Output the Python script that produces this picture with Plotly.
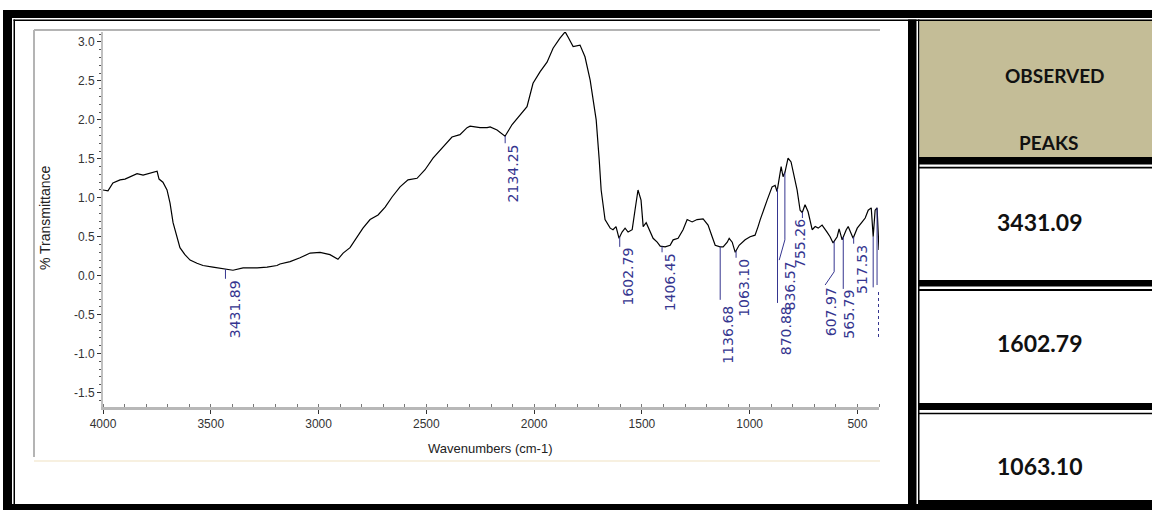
import numpy as np
import plotly.graph_objects as go

W, H = 1152, 510

# ---------------- data ----------------
wavenumber = [4000, 3977, 3954, 3921, 3898, 3875, 3842, 3814, 3782, 3768, 3749, 3740, 3722, 3703,
              3689, 3675, 3657, 3643, 3620, 3596, 3564, 3536, 3490, 3443, 3397, 3350, 3285, 3239,
              3193, 3179, 3132, 3086, 3039, 2993, 2947, 2910, 2886, 2854, 2821, 2794, 2761, 2724,
              2691, 2659, 2622, 2585, 2543, 2506, 2469, 2436, 2404, 2381, 2344, 2311, 2297, 2251,
              2218, 2204, 2172, 2135, 2102, 2065, 2033, 2005, 1972, 1940, 1912, 1880, 1856, 1842,
              1819, 1787, 1764, 1740, 1712, 1698, 1689, 1680, 1671, 1647, 1634, 1620, 1606, 1592,
              1578, 1564, 1545, 1532, 1518, 1504, 1494, 1480, 1462, 1448, 1429, 1415, 1392, 1369,
              1355, 1332, 1309, 1290, 1267, 1244, 1216, 1193, 1174, 1160, 1137, 1123, 1104, 1095,
              1081, 1067, 1049, 1021, 998, 975, 961, 951, 919, 896, 882, 873, 854, 845, 836, 822,
              808, 798, 780, 766, 756, 743, 729, 710, 696, 682, 664, 641, 627, 613, 594, 585, 571,
              552, 543, 520, 501, 478, 464, 450, 436, 427, 418, 409, 404, 400]
transmittance = [1.10, 1.09, 1.19, 1.23, 1.24, 1.27, 1.31, 1.29, 1.31, 1.32, 1.34, 1.24, 1.20, 1.10,
                 0.93, 0.68, 0.48, 0.36, 0.27, 0.20, 0.16, 0.13, 0.11, 0.09, 0.07, 0.10, 0.10, 0.11,
                 0.13, 0.15, 0.18, 0.23, 0.29, 0.30, 0.27, 0.21, 0.29, 0.36, 0.50, 0.61, 0.72, 0.78,
                 0.88, 1.01, 1.14, 1.23, 1.25, 1.36, 1.51, 1.61, 1.72, 1.78, 1.81, 1.90, 1.92, 1.90,
                 1.90, 1.91, 1.87, 1.79, 1.94, 2.06, 2.17, 2.47, 2.62, 2.74, 2.92, 3.05, 3.13, 3.06,
                 2.94, 2.96, 2.81, 2.51, 2.00, 1.49, 1.10, 0.91, 0.72, 0.61, 0.59, 0.63, 0.48, 0.56,
                 0.61, 0.56, 0.59, 0.84, 1.10, 0.97, 0.63, 0.68, 0.56, 0.48, 0.43, 0.38, 0.37, 0.39,
                 0.46, 0.48, 0.59, 0.72, 0.69, 0.72, 0.73, 0.65, 0.50, 0.39, 0.37, 0.37, 0.43, 0.48,
                 0.43, 0.30, 0.39, 0.46, 0.50, 0.52, 0.63, 0.72, 0.97, 1.14, 1.16, 1.08, 1.40, 1.27,
                 1.33, 1.51, 1.46, 1.32, 1.10, 0.84, 0.81, 0.91, 0.82, 0.59, 0.63, 0.61, 0.65, 0.56,
                 0.50, 0.42, 0.50, 0.60, 0.46, 0.59, 0.63, 0.48, 0.61, 0.69, 0.74, 0.84, 0.87, 0.50,
                 0.84, 0.87, 0.63, 0.33]

peak_wavenumbers = [3431.89, 2134.25, 1602.79, 1406.45, 1136.68, 1063.10, 870.88, 836.57,
                    755.26, 607.97, 565.79, 517.53]
peak_labels = ["3431.89", "2134.25", "1602.79", "1406.45", "1136.68", "1063.10", "870.88",
               "836.57", "755.26", "607.97", "565.79", "517.53"]
unlabeled_peaks = [427, 409]

table_header = ["OBSERVED", "PEAKS"]
table_values = ["3431.09", "1602.79", "1063.10"]

x_tick_vals = [4000, 3500, 3000, 2500, 2000, 1500, 1000, 500]
x_tick_text = ["4000", "3500", "3000", "2500", "2000", "1500", "1000", "500"]
y_tick_vals = [3.0, 2.5, 2.0, 1.5, 1.0, 0.5, 0.0, -0.5, -1.0, -1.5]
y_tick_text = ["3.0", "2.5", "2.0", "1.5", "1.0", "0.5", "0.0", "-0.5", "-1.0", "-1.5"]

x_title = "Wavenumbers (cm-1)"
y_title = "% Transmittance"

# ---------------- label layout (positions / styling only) ----------------
label_layout = {
    "3431.89": dict(end=-0.04, dx=9),
    "2134.25": dict(end=1.70, dx=8),
    "1602.79": dict(end=0.37, dx=8),
    "1406.45": dict(end=0.30, dx=8),
    "1136.68": dict(end=-0.31, text=-0.37, dx=8),
    "1063.10": dict(end=0.23, dx=8),
    "870.88": dict(end=-0.35, text=-0.38, dx=8),
    "836.57": dict(bend=0.46, end_wn=863, end=0.20, dx=5),
    "755.26": dict(end=0.74, dx=-3),
    "607.97": dict(bend=0.05, end_wn=650, end=-0.12, text=-0.14, dx=-3),
    "565.79": dict(end=-0.17, dx=6),
    "517.53": dict(end=0.41, dx=9),
}
unlabeled_end = [-0.15, -0.12]

NAVY = "#35358f"
X_RANGE = [4000, 400]
Y_RANGE = [-1.682, 3.128]


def px(x):
    return x / W


def py(y):
    return 1 - y / H


wn_sorted = np.array(wavenumber[::-1], dtype=float)
t_sorted = np.array(transmittance[::-1], dtype=float)


def curve_at(w):
    return float(np.interp(w, wn_sorted, t_sorted))


fig = go.Figure()
fig.add_trace(go.Scatter(x=wavenumber, y=transmittance, mode="lines",
                         line=dict(color="black", width=1.2), hoverinfo="skip",
                         showlegend=False))

shapes = []
annotations = []

# peak leader lines and labels
for w, lab in zip(peak_wavenumbers, peak_labels):
    L = label_layout[lab]
    top = curve_at(w)
    if "bend" in L:
        shapes.append(dict(type="line", xref="x", yref="y", x0=w, x1=w, y0=top, y1=L["bend"],
                           line=dict(color=NAVY, width=1)))
        shapes.append(dict(type="line", xref="x", yref="y", x0=w, x1=L["end_wn"], y0=L["bend"],
                           y1=L["end"], line=dict(color=NAVY, width=1)))
    else:
        shapes.append(dict(type="line", xref="x", yref="y", x0=w, x1=w, y0=top, y1=L["end"],
                           line=dict(color=NAVY, width=1)))
    annotations.append(dict(x=w, y=L.get("text", L["end"]), xref="x", yref="y", text=lab,
                            textangle=-90, showarrow=False, xanchor="center", yanchor="top",
                            xshift=L["dx"], borderpad=0,
                            font=dict(family="DejaVu Sans", size=14, color=NAVY)))

for w, e in zip(unlabeled_peaks, unlabeled_end):
    shapes.append(dict(type="line", xref="x", yref="y", x0=w, x1=w, y0=curve_at(w), y1=e,
                       line=dict(color=NAVY, width=1)))
shapes.append(dict(type="line", xref="paper", yref="paper", x0=px(878.5), x1=px(878.5),
                   y0=py(292), y1=py(340), line=dict(color=NAVY, width=1, dash="dot")))

# chart panel frame
shapes.append(dict(type="line", xref="paper", yref="paper", x0=px(34), x1=px(34),
                   y0=py(30), y1=py(457), line=dict(color="#b4b4b4", width=2)))
shapes.append(dict(type="line", xref="paper", yref="paper", x0=px(34), x1=px(880),
                   y0=py(30), y1=py(30), line=dict(color="#b4b4b4", width=2)))
shapes.append(dict(type="line", xref="paper", yref="paper", x0=px(34), x1=px(880),
                   y0=py(461), y1=py(461), line=dict(color="#f7f0e0", width=2)))


def rect(x0, y0, x1, y1, color="black"):
    shapes.append(dict(type="rect", xref="paper", yref="paper", x0=px(x0), x1=px(x1),
                       y0=py(y1), y1=py(y0), fillcolor=color, line=dict(width=0), layer="above"))


# table frame
rect(3, 10, 1152, 18)
rect(13.5, 19.5, 1152, 21)
rect(3, 10, 12, 510)
rect(13.5, 19.5, 15, 510)
rect(3, 504, 1152, 510)
rect(918, 500, 1152, 510)
rect(908, 19.5, 916.5, 510)
rect(918, 19.5, 919.5, 510)
rect(919.5, 21, 1152, 157, "#c4bd97")
for t0, t1, s0, s1 in [(157, 164.5, 166.7, 168.5), (280, 286.5, 289, 291), (403, 410, 412.7, 414.3)]:
    rect(918, t0, 1152, t1)
    rect(918, s0, 1152, s1)

# table text
tfont = dict(family="Lato, Open Sans, sans-serif", color="#111111")
for txt, (x, y) in zip(table_header, [(1055, 75), (1048, 142)]):
    annotations.append(dict(x=px(x), y=py(y), xref="paper", yref="paper", text="<b>%s</b>" % txt,
                            showarrow=False, xanchor="center", yanchor="middle",
                            font=dict(size=19, **tfont)))
for txt, y in zip(table_values, [222, 343, 466]):
    annotations.append(dict(x=px(1040), y=py(y), xref="paper", yref="paper", text="<b>%s</b>" % txt,
                            showarrow=False, xanchor="center", yanchor="middle",
                            font=dict(size=23, **tfont)))

# axis titles
annotations.append(dict(x=px(490), y=py(448), xref="paper", yref="paper", text=x_title,
                        showarrow=False, xanchor="center", yanchor="middle",
                        font=dict(family="Liberation Sans, Arial", size=13, color="#222")))
annotations.append(dict(x=px(45), y=py(218), xref="paper", yref="paper", text=y_title,
                        textangle=-90, showarrow=False, xanchor="center", yanchor="middle",
                        font=dict(family="Liberation Sans, Arial", size=14, color="#222")))

tickfont = dict(family="Liberation Sans, Arial", size=12, color="#333")
fig.update_layout(
    width=W, height=H, margin=dict(l=0, r=0, t=0, b=0, autoexpand=False),
    paper_bgcolor="white", plot_bgcolor="white", showlegend=False,
    xaxis=dict(domain=[px(103), px(879)], range=X_RANGE, tickvals=x_tick_vals,
               ticktext=x_tick_text, showgrid=False, zeroline=False, showline=True,
               automargin=False,
               linecolor="#b8b8b8", linewidth=3, ticks="outside", ticklen=4, tickcolor="#333",
               tickfont=tickfont,
               minor=dict(dtick=100, ticks="inside", ticklen=3, tickcolor="#777", showgrid=False)),
    yaxis=dict(domain=[py(406.7), py(32)], range=Y_RANGE, tickvals=y_tick_vals,
               ticktext=y_tick_text, showgrid=False, zeroline=False, showline=True,
               automargin=False,
               linecolor="#c0c0c0", linewidth=2, ticks="outside", ticklen=4, tickcolor="#333",
               tickfont=tickfont,
               minor=dict(dtick=0.1, ticks="outside", ticklen=2, tickcolor="#555", showgrid=False)),
    shapes=shapes, annotations=annotations,
)

fig.write_html("out.html", config={"displayModeBar": False},
               post_script="document.body.style.margin='0';document.body.style.overflow='hidden';")
